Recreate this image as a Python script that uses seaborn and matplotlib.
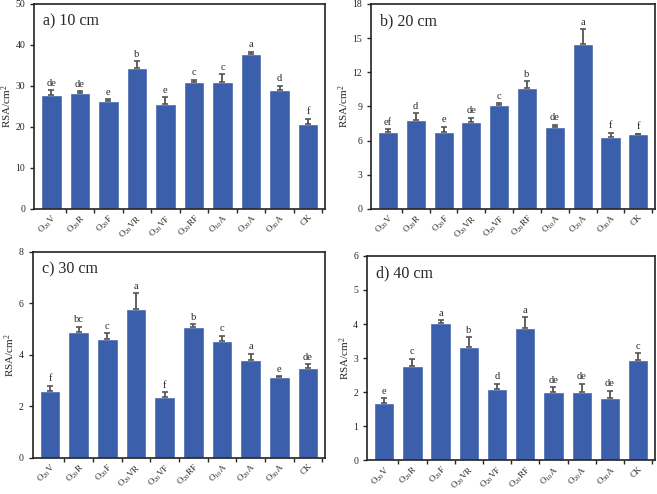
import numpy as np
import matplotlib
matplotlib.use("Agg")
import matplotlib.pyplot as plt
import seaborn as sns

sns.set_style("white")
plt.rcParams['font.family'] = ['Liberation Serif', 'DejaVu Serif']
plt.rcParams['mathtext.fontset'] = 'custom'
plt.rcParams['mathtext.rm'] = 'Liberation Serif'
plt.rcParams['mathtext.it'] = 'Liberation Serif'

# treatments
labels = [r'O$_{20}$V', r'O$_{20}$R', r'O$_{20}$F', r'O$_{20}$VR', r'O$_{20}$VF',
          r'O$_{20}$RF', r'O$_{10}$A', r'O$_{20}$A', r'O$_{30}$A', 'CK']

# RSA means, errors and significance letters per depth
rsa_10 = [27.8, 28.2, 26.4, 34.5, 25.7, 31.0, 31.0, 37.8, 28.9, 20.8]
err_10 = [1.2, 0.5, 0.3, 1.5, 1.6, 0.5, 1.8, 0.5, 1.2, 1.2]
let_10 = ['de', 'de', 'e', 'b', 'e', 'c', 'c', 'a', 'd', 'f']

rsa_20 = [6.8, 7.8, 6.8, 7.6, 9.1, 10.6, 7.2, 14.5, 6.3, 6.55]
err_20 = [0.2, 0.6, 0.4, 0.4, 0.2, 0.6, 0.2, 1.3, 0.4, 0.05]
let_20 = ['ef', 'd', 'e', 'de', 'c', 'b', 'de', 'a', 'f', 'f']

rsa_30 = [2.6, 4.9, 4.6, 5.8, 2.35, 5.1, 4.55, 3.8, 3.15, 3.48]
err_30 = [0.2, 0.2, 0.25, 0.6, 0.2, 0.1, 0.2, 0.25, 0.03, 0.15]
let_30 = ['f', 'bc', 'c', 'a', 'f', 'b', 'c', 'a', 'e', 'de']

rsa_40 = [1.67, 2.78, 4.02, 3.33, 2.1, 3.88, 2.0, 2.0, 1.84, 2.95]
err_40 = [0.15, 0.2, 0.1, 0.28, 0.15, 0.32, 0.15, 0.25, 0.2, 0.2]
let_40 = ['e', 'c', 'a', 'b', 'd', 'a', 'de', 'de', 'de', 'c']

panels = [
    ('a) 10 cm', rsa_10, err_10, let_10, 50, 10, [0.052, 0.577, 0.443, 0.415]),
    ('b) 20 cm', rsa_20, err_20, let_20, 18, 3, [0.565, 0.577, 0.432, 0.415]),
    ('c) 30 cm', rsa_30, err_30, let_30, 8, 2, [0.050, 0.073, 0.445, 0.417]),
    ('d) 40 cm', rsa_40, err_40, let_40, 6, 1, [0.559, 0.068, 0.438, 0.414]),
]

bar_color = '#3B5FAA'
fig = plt.figure(figsize=(6.57, 4.94), dpi=100)

for title, vals, errs, lets, ymax, step, rect in panels:
    ax = fig.add_axes(rect)
    x = np.arange(len(labels))
    sns.barplot(x=x, y=vals, color=bar_color, width=0.72, saturation=1, ax=ax, errorbar=None)
    ax.errorbar(x, vals, yerr=[np.zeros(len(vals)), errs], fmt='none',
                ecolor='#555555', elinewidth=1.3, capsize=2.5, capthick=1.2)
    for xi, v, e, t in zip(x, vals, errs, lets):
        ax.text(xi, v + e + ymax * 0.012, t, ha='center', va='bottom', fontsize=7.5)
    ax.set_xlim(-0.6, 9.6)
    ax.set_ylim(0, ymax)
    ax.set_yticks(np.arange(0, ymax + 0.01, step))
    ax.set_xticks(x)
    ax.set_xticklabels(labels, rotation=45, ha='right', rotation_mode='anchor', fontsize=6.5)
    ax.set_xticks(np.arange(0.5, 9.6, 1), minor=True)
    ax.tick_params(axis='x', which='major', length=0, pad=3)
    ax.tick_params(axis='x', which='minor', length=3, width=1, direction='out', bottom=True)
    ax.tick_params(axis='y', length=3, width=1, direction='out', left=True, labelsize=7)
    ax.set_ylabel('RSA/cm$^2$', fontsize=8, labelpad=1)
    for s in ax.spines.values():
        s.set_color('#222222')
        s.set_linewidth(1.2)
    ax.text(0.03, 0.955, title, transform=ax.transAxes, fontsize=11.5, va='top', ha='left')

fig.savefig('out.png', dpi=100)
